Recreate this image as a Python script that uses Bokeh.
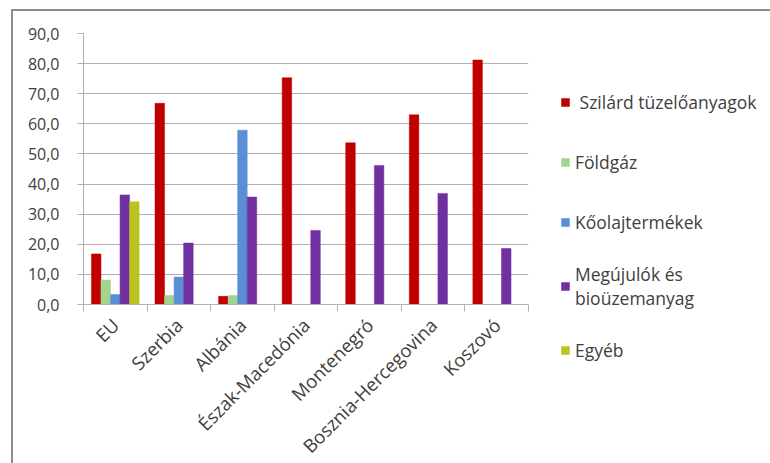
import math
import numpy as np
from bokeh.plotting import figure
from bokeh.models import Range1d, FixedTicker, Legend, LegendItem
from bokeh.embed import file_html
from bokeh.resources import INLINE

# Energy mix by source, percent
countries = ["EU", "Szerbia", "Albánia", "Észak-Macedónia", "Montenegró",
             "Bosznia-Hercegovina", "Koszovó"]
series_names = [" Szilárd tüzelőanyagok", "Földgáz", "Kőolajtermékek",
                "Megújulók és\nbioüzemanyag", "Egyéb"]
solid_fuels = [16.8, 66.8, 2.7, 75.3, 53.7, 63.0, 81.2]
natural_gas = [8.1, 3.0, 3.0, None, None, None, None]
oil_products = [3.3, 9.1, 57.9, None, None, None, None]
renewables = [36.4, 20.4, 35.7, 24.6, 46.2, 36.9, 18.6]
other = [34.1, None, None, None, None, None, None]
y_ticks = [0, 10, 20, 30, 40, 50, 60, 70, 80, 90]

series = [solid_fuels, natural_gas, oil_products, renewables, other]
colors = ["#C00000", "#A2D48E", "#5A8FD6", "#7030A0", "#BCC21E"]

FONT = "Open Sans"
TEXT = "#404040"
GRID = "#B0B0B0"

p = figure(frame_width=445, frame_height=271,
           min_border_left=70, min_border_right=240,
           min_border_top=22, min_border_bottom=161,
           x_range=Range1d(0, len(countries)), y_range=Range1d(0, 90),
           output_backend="svg", toolbar_location=None,
           background_fill_color="white", border_fill_color="white")
p.outline_line_color = None
# page frame: grey rules along the top and left edges
p.styles = {"margin-left": "13px", "margin-top": "11px",
            "box-shadow": "-2px -2px 0 0 #8C8C8C"}

bar_w = 0.15
renderers = []
for i, (vals, col) in enumerate(zip(series, colors)):
    xs = [c + 0.5 + (i - 2) * bar_w for c in range(len(countries))]
    tops = [np.nan if v is None else v for v in vals]
    r = p.vbar(x=xs, top=tops, bottom=0, width=bar_w, fill_color=col,
               line_color=col, line_width=0.5)
    renderers.append(r)

# y axis
ya = p.yaxis[0]
ya.ticker = FixedTicker(ticks=y_ticks)
ya.major_label_overrides = {t: f"{t:.1f}".replace(".", ",") for t in y_ticks}
ya.axis_line_color = GRID
ya.major_tick_line_color = GRID
ya.major_tick_out = 6
ya.major_tick_in = 0
ya.minor_tick_line_color = None
ya.major_label_text_font = FONT
ya.major_label_text_font_size = "16px"
ya.major_label_text_color = TEXT
ya.major_label_standoff = 18

# x axis: labels at category centres, ticks at category boundaries
xa = p.xaxis[0]
centers = [c + 0.5 for c in range(len(countries))]
xa.ticker = FixedTicker(ticks=centers, minor_ticks=list(range(len(countries) + 1)))
xa.major_label_overrides = {c: name for c, name in zip(centers, countries)}
xa.major_label_orientation = math.pi / 4
xa.major_tick_line_color = None
xa.minor_tick_line_color = GRID
xa.minor_tick_out = 7
xa.minor_tick_in = 0
xa.axis_line_color = GRID
xa.major_label_text_font = FONT
xa.major_label_text_font_size = "18.5px"
xa.major_label_text_color = TEXT
xa.major_label_standoff = 10

p.xgrid.grid_line_color = None
p.ygrid.grid_line_color = GRID
p.ygrid.ticker = FixedTicker(ticks=y_ticks)

# legend in the right-hand panel
item_h, gap = 40, 20
n = len(series_names)
legend_h = n * item_h + (n - 1) * gap
frame_bottom, first_top = 304, 110 - item_h / 2
legend = Legend(items=[LegendItem(label=nm, renderers=[r])
                       for nm, r in zip(series_names, renderers)],
                location=(32, frame_bottom - first_top - legend_h),
                padding=0, margin=0, spacing=gap,
                glyph_width=10, glyph_height=10, label_standoff=5,
                label_height=item_h,
                label_text_font=FONT, label_text_font_size="17.5px",
                label_text_color=TEXT,
                border_line_color=None, background_fill_alpha=0)
p.add_layout(legend, "right")

open("out.html", "w").write(file_html(p, INLINE))
